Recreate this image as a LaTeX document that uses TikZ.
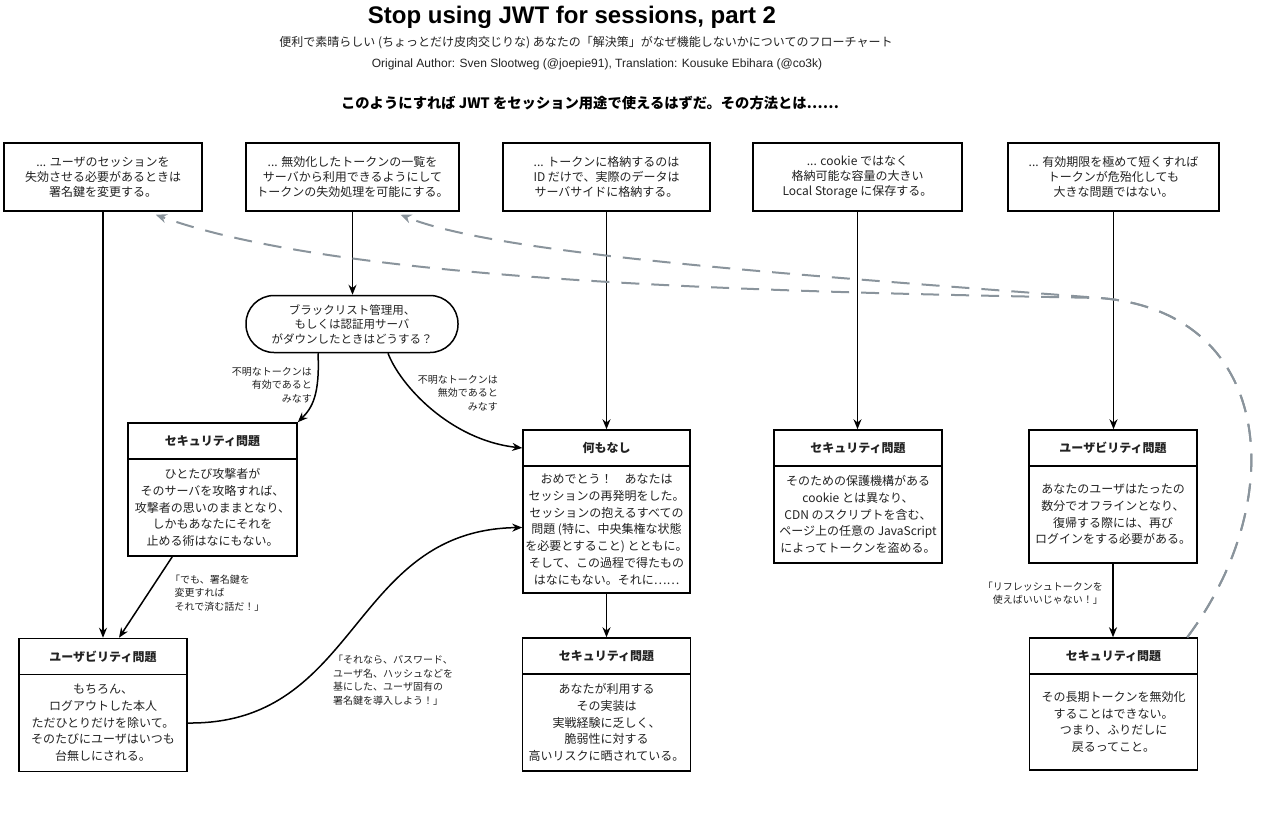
\documentclass[tikz,border=0pt]{standalone}
\usepackage{fontspec}
\setmainfont{Noto Sans CJK JP}
\newfontfamily\lib{Liberation Sans}
\usetikzlibrary{arrows.meta,calc}
\definecolor{txt}{HTML}{222222}
\definecolor{dashc}{HTML}{8A949C}
\begin{document}
\begin{tikzpicture}[x=1pt,y=-1pt,
 box/.style={draw=black, line width=1.5pt, inner sep=0pt, align=center, text=txt},
 hdr/.style={box, font=\fontsize{12}{15}\selectfont\bfseries, minimum height=36pt},
 body/.style={box, font=\fontsize{12}{16.7}\selectfont},
 topbox/.style={box, font=\fontsize{12}{15}\selectfont, minimum height=68pt},
 lbl/.style={inner sep=0pt, text=txt, font=\fontsize{10}{13.5}\selectfont},
 arr/.style={line width=1.5pt, -{Stealth[length=10pt,width=8pt]}},
 dsh/.style={draw=dashc, line width=2pt, dash pattern=on 18pt off 12pt, -{Stealth[length=11pt,width=9pt]}},
]
\useasboundingbox (0,0) rectangle (1285,825);
\fill[white] (0,0) rectangle (1285,825);

% titles
\node[font={\fontsize{24}{28}\selectfont\lib\bfseries}] (title) at (572,17) {Stop using JWT for sessions, part 2};
\node[font={\fontsize{12}{14}\selectfont}, text=txt] (sub) at (586,43) {便利で素晴らしい (ちょっとだけ皮肉交じりな) あなたの「解決策」がなぜ機能しないかについてのフローチャート};
\node[font={\fontsize{12}{14}\selectfont\lib}, text=txt] (auth) at (597,64) {Original Author: Sven Slootweg (@joepie91), Translation: Kousuke Ebihara (@co3k)};
\node[font={\fontsize{14.3}{17}\selectfont\bfseries}] (head) at (590,103) {このようにすれば JWT をセッション用途で使えるはずだ。その方法とは……};

% top boxes
\node[topbox, minimum width=198pt] (t1) at (103,177) {... ユーザのセッションを\\失効させる必要があるときは\\署名鍵を変更する。};
\node[topbox, minimum width=213pt] (t2) at (352.5,177) {... 無効化したトークンの一覧を\\サーバから利用できるようにして\\トークンの失効処理を可能にする。};
\node[topbox, minimum width=207pt] (t3) at (606.5,177) {... トークンに格納するのは\\ID だけで、実際のデータは\\サーバサイドに格納する。};
\node[topbox, minimum width=209pt] (t4) at (857.5,177) {... cookie ではなく\\格納可能な容量の大きい\\Local Storage に保存する。};
\node[topbox, minimum width=211pt] (t5) at (1113.5,177) {... 有効期限を極めて短くすれば\\トークンが危殆化しても\\大きな問題ではない。};

% decision
\node[box, rounded corners=28pt, minimum width=212pt, minimum height=57pt, font=\fontsize{11.5}{14.5}\selectfont] (bl) at (352,324) {ブラックリスト管理用、\\もしくは認証用サーバ\\がダウンしたときはどうする？};

% security 1
\node[hdr, minimum width=169pt] (s1h) at (212.5,441) {セキュリティ問題};
\node[body, minimum width=169pt, minimum height=97pt] (s1b) at (212.5,507.5) {ひとたび攻撃者が\\そのサーバを攻略すれば、\\攻撃者の思いのままとなり、\\しかもあなたにそれを\\止める術はなにもない。};

% nothing
\node[hdr, minimum width=167pt] (nh) at (606.5,448) {何もなし};
\node[body, minimum width=167pt, minimum height=127pt] (nb) at (606.5,529.5) {おめでとう！　あなたは\\セッションの再発明をした。\\セッションの抱えるすべての\\問題 (特に、中央集権な状態\\を必要とすること) とともに。\\そして、この過程で得たもの\\はなにもない。それに……};

% cookie security
\node[hdr, minimum width=168pt] (ch) at (858,448) {セキュリティ問題};
\node[body, minimum width=168pt, minimum height=97pt] (cb) at (858,514.5) {そのための保護機構がある\\cookie とは異なり、\\CDN のスクリプトを含む、\\ページ上の任意の JavaScript\\によってトークンを盗める。};

% usability right
\node[hdr, minimum width=168pt] (urh) at (1113,448) {ユーザビリティ問題};
\node[body, minimum width=168pt, minimum height=97pt] (urb) at (1113,514.5) {あなたのユーザはたったの\\数分でオフラインとなり、\\復帰する際には、再び\\ログインをする必要がある。};

% usability left
\node[hdr, minimum width=168pt] (ulh) at (103,656.5) {ユーザビリティ問題};
\node[body, minimum width=168pt, minimum height=97pt] (ulb) at (103,723) {もちろん、\\ログアウトした本人\\ただひとりだけを除いて。\\そのたびにユーザはいつも\\台無しにされる。};

% security middle
\node[hdr, minimum width=168pt] (smh) at (606.5,656) {セキュリティ問題};
\node[body, minimum width=168pt, minimum height=97pt] (smb) at (606.5,722.5) {あなたが利用する\\その実装は\\実戦経験に乏しく、\\脆弱性に対する\\高いリスクに晒されている。};

% security right
\node[hdr, minimum width=168pt] (srh) at (1113.5,656) {セキュリティ問題};
\node[body, minimum width=168pt, minimum height=96pt] (srb) at (1113.5,722) {その長期トークンを無効化\\することはできない。\\つまり、ふりだしに\\戻るってこと。};

% labels
\node[lbl, align=right, anchor=east] (l1) at (312,385) {不明なトークンは\\有効であると\\みなす};
\node[lbl, align=right, anchor=east] (l2) at (498,393) {不明なトークンは\\無効であると\\みなす};
\node[lbl, align=left, anchor=west] (l3) at (170,593) {「でも、署名鍵を\\\ \ 変更すれば\\\ \ それで済む話だ！」};
\node[lbl, align=right, anchor=east] (l4) at (1103,593) {「リフレッシュトークンを\\使えばいいじゃない！」};
\node[lbl, align=left, anchor=west] (l5) at (333,680) {「それなら、パスワード、\\ユーザ名、ハッシュなどを\\基にした、ユーザ固有の\\署名鍵を導入しよう！」};

% straight arrows
\draw[arr] (t1.south) -- (t1.south |- ulh.north);
\draw[arr] (t2.south) -- (t2.south |- bl.north);
\draw[arr] (t3.south) -- (t3.south |- nh.north);
\draw[arr] (t4.south) -- (t4.south |- ch.north);
\draw[arr] (t5.south) -- (t5.south |- urh.north);
\draw[arr] (nb.south) -- (nb.south |- smh.north);
\draw[arr] (urb.south) -- (urb.south |- srh.north);
\draw[arr] ($(s1b.south west)+(45,0)$) -- ($(ulh.north)+(16,0)$);

% curved arrows
\draw[arr] ($(bl.south)+(-34,0)$) .. controls (320,395) and (312,408) .. (s1h.north east);
\draw[arr] ($(bl.south)+(36,0)$) .. controls (400,385) and (450,440) .. (nh.west);
\draw[arr] (ulb.east) .. controls (360,725) and (350,530) .. ($(nb.west)+(0,-2)$);

% dashed arrows
\coordinate (dj) at (1100,298);
\draw[dsh] ($(srh.north east)+(-11,0)$) .. controls (1290,500) and (1275,312) .. (dj) .. controls (800,292) and (350,285) .. ($(t1.south east)+(-47,3)$);
\draw[dsh] ($(srh.north east)+(-11,0)$) .. controls (1290,500) and (1275,312) .. (dj) .. controls (800,275) and (500,255) .. ($(t2.south)+(48,3)$);
\end{tikzpicture}
\end{document}
